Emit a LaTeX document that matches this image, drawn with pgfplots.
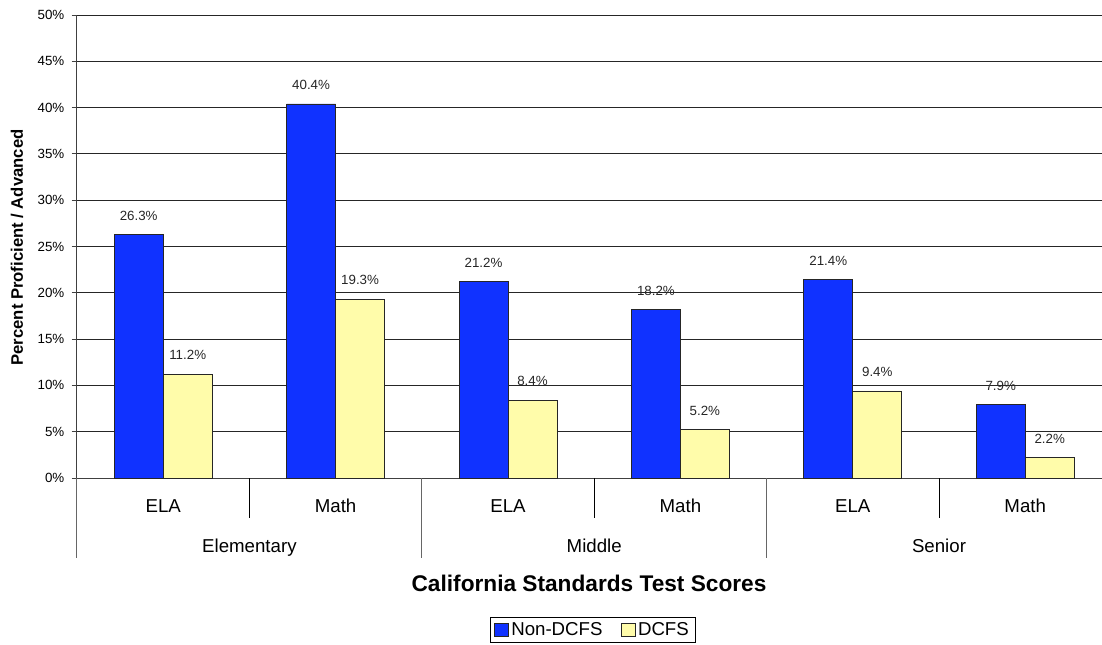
\documentclass[border=0pt]{standalone}
\usepackage{pgfplots}
\pgfplotsset{compat=1.18}
\usepackage{fontspec}
\setmainfont{Liberation Sans}
\definecolor{barblue}{RGB}{16,50,255}
\definecolor{baryellow}{RGB}{255,252,170}
\begin{document}
\begin{tikzpicture}
\useasboundingbox (0,0) rectangle (826.5pt,483pt);
\begin{axis}[
  at={(57.75pt,124.5pt)}, anchor=south west,
  scale only axis, width=768.75pt, height=347.25pt,
  xmin=-0.5, xmax=5.4455, ymin=0, ymax=50,
  clip=false,
  axis x line*=bottom, axis y line*=left,
  axis line style={-, black!75, line width=0.75pt},
  ybar=0pt, bar width=36.75pt,
  ytick={0,5,...,50},
  yticklabels={0\%,5\%,10\%,15\%,20\%,25\%,30\%,35\%,40\%,45\%,50\%},
  yticklabel style={font=\fontsize{10}{12}\selectfont, xshift=-2pt},
  ymajorgrids, grid style={black!85, line width=0.75pt},
  tick align=outside, major tick length=4pt,
  ytick style={black!75, line width=0.75pt},
  xtick={0,...,5}, xticklabels={ELA,Math,ELA,Math,ELA,Math},
  xtick style={draw=none},
  xticklabel style={font=\fontsize{14}{16}\selectfont, anchor=center, text height=10pt, text depth=3pt, yshift=-18.5pt},
  /pgf/number format/assume math mode=true,
  nodes near coords={\pgfmathprintnumber[fixed,fixed zerofill,precision=1]{\pgfplotspointmeta}\%},
  every node near coord/.append style={font=\fontsize{10}{12}\selectfont, anchor=center, yshift=14.25pt, text=black!85},
  legend columns=2,
  legend style={at={(axis description cs:0.5034,-0.3283)}, anchor=center, draw=black, line width=0.6pt,
    font=\fontsize{14}{16}\selectfont, inner xsep=3pt, inner ysep=1.5pt, row sep=0pt,
    /tikz/every even column/.append style={column sep=12pt}},
  legend image code/.code={\draw[#1, line width=0.6pt] (0pt,-4.5pt) rectangle (10pt,5pt);},
]
\addplot[fill=barblue, draw=black!85, line width=0.6pt] coordinates {(0,26.3) (1,40.4) (2,21.2) (3,18.2) (4,21.4) (5,7.9)};
\addplot[fill=baryellow, draw=black!85, line width=0.6pt] coordinates {(0,11.2) (1,19.3) (2,8.4) (3,5.2) (4,9.4) (5,2.2)};
\legend{Non-DCFS,DCFS}
\draw[black, line width=0.75pt] (axis cs:0.5,0) -- ([yshift=-30pt]axis cs:0.5,0);
\draw[black, line width=0.75pt] (axis cs:2.5,0) -- ([yshift=-30pt]axis cs:2.5,0);
\draw[black, line width=0.75pt] (axis cs:4.5,0) -- ([yshift=-30pt]axis cs:4.5,0);
\draw[black!60, line width=0.75pt] (axis cs:-0.5,0) -- ([yshift=-60pt]axis cs:-0.5,0);
\draw[black!60, line width=0.75pt] (axis cs:1.5,0) -- ([yshift=-60pt]axis cs:1.5,0);
\draw[black!60, line width=0.75pt] (axis cs:3.5,0) -- ([yshift=-60pt]axis cs:3.5,0);
\node[font=\fontsize{14}{16}\selectfont, anchor=center, text height=10pt, text depth=3pt] at (axis cs:0.5,0) [yshift=-52pt] {Elementary};
\node[font=\fontsize{14}{16}\selectfont, anchor=center, text height=10pt, text depth=3pt] at (axis cs:2.5,0) [yshift=-52pt] {Middle};
\node[font=\fontsize{14}{16}\selectfont, anchor=center, text height=10pt, text depth=3pt] at (axis cs:4.5,0) [yshift=-52pt] {Senior};
\node[font=\fontsize{17}{20}\bfseries, anchor=center] at (axis cs:2.47,0) [yshift=-78.75pt] {California Standards Test Scores};
\end{axis}
\node[font=\fontsize{12.5}{15}\bfseries, rotate=90, anchor=center] at (12.75pt,297.4pt) {Percent Proficient / Advanced};
\end{tikzpicture}
\end{document}
